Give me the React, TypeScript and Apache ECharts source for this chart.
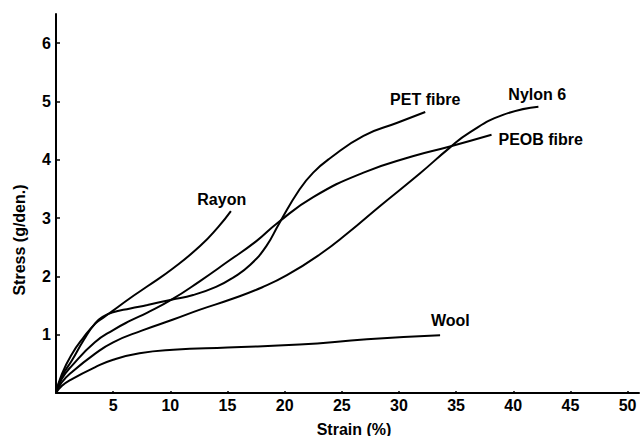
import React, { useEffect, useRef } from "react";
import * as echarts from "echarts";

// Stress (g/den.) vs strain (%)
const rayon: number[][] = [
  [0, 0], [0.5, 0.32], [1.4, 0.67], [2.4, 0.95], [3.44, 1.19], [4.2, 1.3], [4.9, 1.4],
  [6.5, 1.63], [8, 1.83], [10.25, 2.14], [12.6, 2.52], [14.2, 2.85], [15.3, 3.12],
];
const pet: number[][] = [
  [0, 0], [0.5, 0.28], [1.4, 0.56], [2.4, 0.9], [3.44, 1.2], [4.2, 1.32], [4.9, 1.38],
  [6.5, 1.45], [8, 1.51], [10.1, 1.6], [12, 1.68], [14, 1.82], [15.5, 1.98], [17, 2.2],
  [18.4, 2.52], [19.5, 2.9], [21.3, 3.49], [22.5, 3.78], [24, 4.03], [26.9, 4.41],
  [29.8, 4.63], [32.3, 4.82],
];
const peob: number[][] = [
  [0, 0], [0.5, 0.24], [1.4, 0.47], [3.4, 0.87], [5, 1.08], [6.5, 1.24], [8, 1.38],
  [10.1, 1.6], [12.6, 1.92], [15, 2.25], [17.5, 2.6], [19.4, 2.92], [22.5, 3.36],
  [26.9, 3.78], [31.2, 4.06], [34.3, 4.22], [38.1, 4.43],
];
const nylon6: number[][] = [
  [0, 0], [0.5, 0.18], [1.4, 0.36], [3.4, 0.67], [5, 0.87], [7.5, 1.07], [10.25, 1.26],
  [12.6, 1.43], [15.5, 1.62], [18, 1.81], [20.2, 2.02], [23.1, 2.38], [25.5, 2.74],
  [28.3, 3.2], [31.8, 3.76], [34.4, 4.2], [36.2, 4.47], [39.1, 4.77], [42.2, 4.91],
];
const wool: number[][] = [
  [0, 0], [0.5, 0.12], [1.4, 0.24], [3.4, 0.44], [5, 0.57], [7.3, 0.68], [10.25, 0.74],
  [15, 0.78], [21.3, 0.83], [27.2, 0.92], [33.6, 0.99],
];

const seriesNames = ["Rayon", "PET fibre", "PEOB fibre", "Nylon 6", "Wool"];
const seriesData = [rayon, pet, peob, nylon6, wool];
// label anchor (data coords) for each curve's name
const labelPositions: number[][] = [
  [14.5, 3.32], [32.3, 5.03], [42.4, 4.35], [42.1, 5.12], [34.5, 1.25],
];

const xTicks = [5, 10, 15, 20, 25, 30, 35, 40, 45, 50];
const yTicks = [1, 2, 3, 4, 5, 6];
const xMax = 51;
const yMax = 6.5;

const FONT = '"Liberation Sans", Arial, sans-serif';

export default function App() {
  const ref = useRef<HTMLDivElement>(null);
  useEffect(() => {
    if (!ref.current) return;
    const chart = echarts.init(ref.current, null, { renderer: "svg" });
    const lineSeries = seriesData.map((d, i) => ({
      type: "line",
      name: seriesNames[i],
      data: d,
      smooth: 0.5,
      showSymbol: false,
      symbol: "none",
      lineStyle: { color: "#000", width: 2 },
      z: 3,
    }));
    chart.setOption({
      animation: false,
      backgroundColor: "#fff",
      grid: { left: 56, right: 1, top: 14, bottom: 43 },
      xAxis: {
        type: "value",
        min: 0,
        max: xMax,
        axisLine: { show: true, lineStyle: { color: "#000", width: 2 } },
        axisTick: {
          show: true,
          inside: true,
          length: 2,
          customValues: xTicks,
          lineStyle: { color: "#000", width: 1.5 },
        },
        axisLabel: {
          customValues: xTicks,
          color: "#000",
          fontSize: 16,
          fontWeight: "bold",
          fontFamily: FONT,
          margin: 4,
        },
        splitLine: { show: false },
      },
      yAxis: {
        type: "value",
        min: 0,
        max: yMax,
        axisLine: { show: true, lineStyle: { color: "#000", width: 2 } },
        axisTick: {
          show: true,
          inside: true,
          length: 4,
          customValues: yTicks,
          lineStyle: { color: "#000", width: 1.5 },
        },
        axisLabel: {
          customValues: yTicks,
          color: "#000",
          fontSize: 16,
          fontWeight: "bold",
          fontFamily: FONT,
          margin: 5,
        },
        splitLine: { show: false },
      },
      series: [
        ...lineSeries,
        {
          type: "scatter",
          name: "labels",
          data: labelPositions.map((p, i) => ({ value: p, name: seriesNames[i] })),
          symbolSize: 1,
          itemStyle: { color: "rgba(0,0,0,0)", opacity: 1 },
          label: {
            show: true,
            position: "inside",
            formatter: (p: any) => p.name,
            color: "#000",
            opacity: 1,
            textBorderWidth: 0,
            fontSize: 16,
            fontWeight: "bold",
            fontFamily: FONT,
          },
          emphasis: { disabled: true },
          z: 4,
        },
      ],
      graphic: [
        {
          type: "text",
          x: 19,
          y: 240,
          rotation: Math.PI / 2,
          style: {
            text: "Stress (g/den.)",
            fill: "#000",
            font: `bold 16px ${FONT}`,
            textAlign: "center",
            textVerticalAlign: "middle",
          },
        },
        {
          type: "text",
          x: 354,
          y: 429,
          style: {
            text: "Strain (%)",
            fill: "#000",
            font: `bold 16px ${FONT}`,
            textAlign: "center",
            textVerticalAlign: "middle",
          },
        },
      ],
    });
    return () => chart.dispose();
  }, []);
  return (
    <div
      ref={ref}
      style={{ position: "fixed", left: 0, top: 0, width: 640, height: 436, background: "#fff" }}
    />
  );
}
